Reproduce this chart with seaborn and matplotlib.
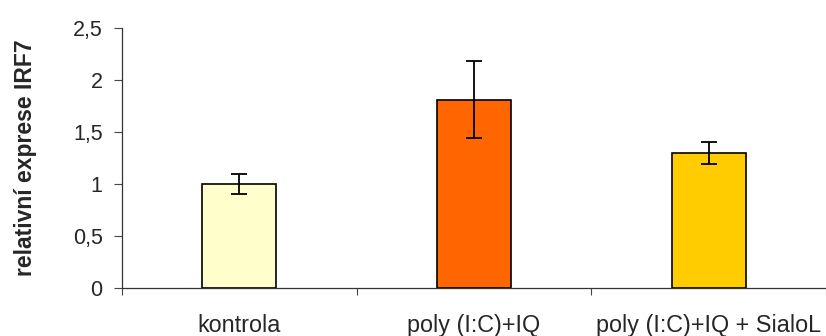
import matplotlib
matplotlib.use("Agg")
import matplotlib.pyplot as plt
import seaborn as sns
import pandas as pd
from matplotlib.ticker import FixedLocator, NullFormatter

categories = ["kontrola", "poly (I:C)+IQ", "poly (I:C)+IQ + SialoL"]
values = [1.00, 1.81, 1.30]
errors = [0.095, 0.37, 0.105]
colors = ["#FFFFCC", "#FF6600", "#FFCC00"]
yticks = [0, 0.5, 1, 1.5, 2, 2.5]
yticklabels = ["0", "0,5", "1", "1,5", "2", "2,5"]
ylabel = "relativní exprese IRF7"

sns.set_theme(style="white")
plt.rcParams["font.family"] = ["Liberation Sans", "DejaVu Sans"]

df = pd.DataFrame({"cat": categories, "val": values})

fig = plt.figure(figsize=(8.26, 3.36), dpi=100)
ax = fig.add_axes([0.1477, 0.1429, 0.8523, 0.7738])

sns.barplot(data=df, x="cat", y="val", hue="cat", palette=colors, legend=False,
            saturation=1, width=0.315, edgecolor="black", linewidth=1.2, ax=ax,
            errorbar=None)
ax.errorbar(categories, values, yerr=errors, fmt="none", ecolor="black",
            elinewidth=1.3, capsize=5.5, capthick=1.3)

ax.set_ylim(0, 2.5)
ax.set_xlim(-0.5, 2.5)
ax.set_yticks(yticks)
ax.set_yticklabels(yticklabels, fontsize=15.5)
ax.set_ylabel(ylabel, fontsize=16.5, fontweight="bold", labelpad=26)
ax.set_xlabel("")
ax.tick_params(axis="x", which="major", length=0, pad=19, labelsize=16.8)
ax.xaxis.set_minor_locator(FixedLocator([-0.5, 0.5, 1.5, 2.5]))
ax.xaxis.set_minor_formatter(NullFormatter())
ax.tick_params(axis="x", which="minor", bottom=True, length=5, width=0.8, color="#444444")
ax.tick_params(axis="y", left=True, length=6, width=0.8, color="#444444", pad=8)

for s in ["top", "right"]:
    ax.spines[s].set_visible(False)
for s in ["left", "bottom"]:
    ax.spines[s].set_color("#333333")
    ax.spines[s].set_linewidth(0.9)
ax.grid(False)

fig.savefig("out.png", dpi=100)
